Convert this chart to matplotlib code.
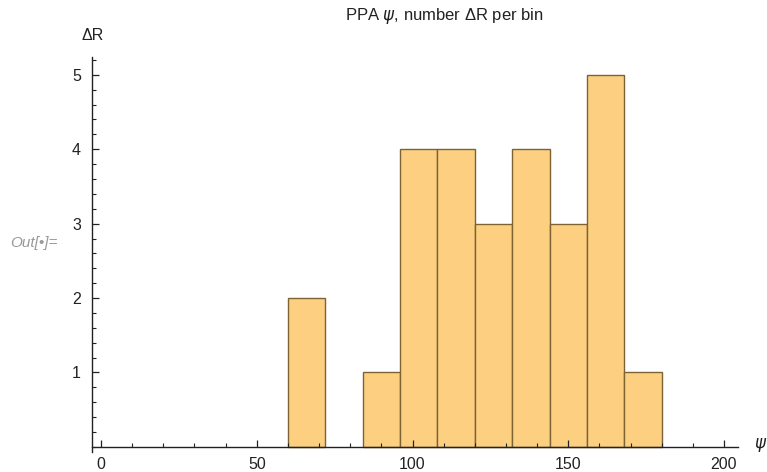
import numpy as np
import matplotlib.pyplot as plt
from matplotlib.ticker import MultipleLocator

plt.rcParams['font.family'] = ['Liberation Sans', 'DejaVu Sans']

# histogram of psi, 12-degree bins
bin_left = [60, 84, 96, 108, 120, 132, 144, 156, 168]
counts = [2, 1, 4, 4, 3, 4, 3, 5, 1]
bin_width = 12

fig = plt.figure(figsize=(7.67, 4.72), dpi=100)
ax = fig.add_axes([92 / 767, 20 / 472, 646 / 767, 395 / 472])

ax.bar(bin_left, counts, width=bin_width, align='edge',
       color='#fdd081', edgecolor='#7d6233', linewidth=1.0)

ax.set_xlim(-2.9, 204.5)
ax.set_ylim(-0.07, 5.24)

ax.spines['top'].set_visible(False)
ax.spines['right'].set_visible(False)
ax.spines['bottom'].set_position(('data', 0))
for s in ('left', 'bottom'):
    ax.spines[s].set_linewidth(1.0)
    ax.spines[s].set_color('#222222')

ax.xaxis.set_major_locator(MultipleLocator(50))
ax.xaxis.set_minor_locator(MultipleLocator(10))
ax.yaxis.set_major_locator(MultipleLocator(1))
ax.yaxis.set_minor_locator(MultipleLocator(0.2))
ax.set_yticks([1, 2, 3, 4, 5])

ax.tick_params(which='both', direction='in', colors='#222222', labelsize=11.5)
ax.tick_params(which='major', length=5, width=0.9)
ax.tick_params(which='minor', length=3, width=0.8)
ax.tick_params(axis='x', pad=7)
ax.tick_params(axis='y', pad=8)

fig.text(444 / 767, 1 - 16 / 472, r'PPA $\psi$, number ΔR per bin',
         ha='center', va='center', fontsize=12, color='#222222')
fig.text(93 / 767, 1 - 35 / 472, 'ΔR', ha='center', va='center',
         fontsize=11.5, color='#222222')
fig.text(754 / 767, 1 - 445 / 472, r'$\psi$', ha='left', va='center',
         fontsize=12, color='#222222')
fig.text(10 / 767, 1 - 243 / 472, 'Out[•]=', ha='left', va='center',
         fontsize=11, style='italic', color='#999999')

fig.savefig('out.png', dpi=100)
